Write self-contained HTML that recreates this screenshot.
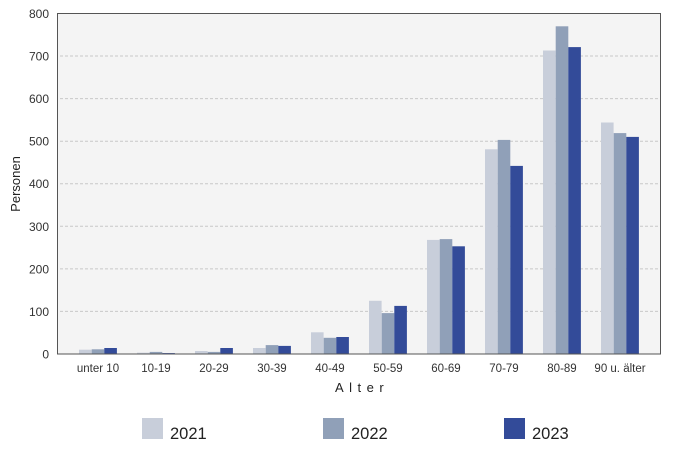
<!DOCTYPE html>
<html><head><meta charset="utf-8"><style>
html,body{margin:0;padding:0;background:#fff;}
svg{display:block;font-family:"Liberation Sans",sans-serif;}
</style></head><body>
<svg width="682" height="449" viewBox="0 0 682 449">
<rect x="57.5" y="13.5" width="603" height="340.5" fill="#f4f4f4" stroke="#555" stroke-width="1"/>
<g stroke="#c8c8c8" stroke-width="1" stroke-dasharray="3,2">
<line x1="60" x2="660" y1="56" y2="56"/>
<line x1="60" x2="660" y1="98.6" y2="98.6"/>
<line x1="60" x2="660" y1="141.2" y2="141.2"/>
<line x1="60" x2="660" y1="183.7" y2="183.7"/>
<line x1="60" x2="660" y1="226.3" y2="226.3"/>
<line x1="60" x2="660" y1="268.9" y2="268.9"/>
<line x1="60" x2="660" y1="311.4" y2="311.4"/>
</g>
<g transform="translate(0,354) scale(1,-1)">
<g fill="#c8ceda">
<rect x="79" width="12.6" y="0" height="4.3"/>
<rect x="137" width="12.6" y="0" height="1.3"/>
<rect x="195" width="12.6" y="0" height="3"/>
<rect x="253" width="12.6" y="0" height="6"/>
<rect x="311" width="12.6" y="0" height="21.7"/>
<rect x="369" width="12.6" y="0" height="53.2"/>
<rect x="427" width="12.6" y="0" height="114.1"/>
<rect x="485" width="12.6" y="0" height="204.7"/>
<rect x="543" width="12.6" y="0" height="303.5"/>
<rect x="601" width="12.6" y="0" height="231.5"/>
</g>
<g fill="#90a0b8">
<rect x="91.7" width="12.6" y="0" height="4.7"/>
<rect x="149.7" width="12.6" y="0" height="2.1"/>
<rect x="207.7" width="12.6" y="0" height="2.1"/>
<rect x="265.7" width="12.6" y="0" height="8.9"/>
<rect x="323.7" width="12.6" y="0" height="16.2"/>
<rect x="381.7" width="12.6" y="0" height="40.9"/>
<rect x="439.7" width="12.6" y="0" height="114.9"/>
<rect x="497.7" width="12.6" y="0" height="214.1"/>
<rect x="555.7" width="12.6" y="0" height="327.7"/>
<rect x="613.7" width="12.6" y="0" height="220.9"/>
</g>
<g fill="#334b99">
<rect x="104.3" width="12.6" y="0" height="6"/>
<rect x="162.3" width="12.6" y="0" height="0.9"/>
<rect x="220.3" width="12.6" y="0" height="6"/>
<rect x="278.3" width="12.6" y="0" height="8.1"/>
<rect x="336.3" width="12.6" y="0" height="17"/>
<rect x="394.3" width="12.6" y="0" height="48.1"/>
<rect x="452.3" width="12.6" y="0" height="107.7"/>
<rect x="510.3" width="12.6" y="0" height="188.1"/>
<rect x="568.3" width="12.6" y="0" height="306.9"/>
<rect x="626.3" width="12.6" y="0" height="217.1"/>
</g>
</g>
<line x1="57.5" y1="13" x2="57.5" y2="354.5" stroke="#555" stroke-width="1"/>
<line x1="57" y1="354" x2="661" y2="354" stroke="#555" stroke-width="1"/>
<g font-size="12" fill="#333" text-anchor="end">
<text x="49" y="18">800</text>
<text x="49" y="60.5">700</text>
<text x="49" y="103">600</text>
<text x="49" y="145.5">500</text>
<text x="49" y="188">400</text>
<text x="49" y="231">300</text>
<text x="49" y="273.5">200</text>
<text x="49" y="316">100</text>
<text x="49" y="358.5">0</text>
</g>
<g font-size="11.5" fill="#333" text-anchor="middle">
<text x="98" y="372">unter 10</text>
<text x="156" y="372">10-19</text>
<text x="214" y="372">20-29</text>
<text x="272" y="372">30-39</text>
<text x="330" y="372">40-49</text>
<text x="388" y="372">50-59</text>
<text x="446" y="372">60-69</text>
<text x="504" y="372">70-79</text>
<text x="562" y="372">80-89</text>
<text x="620" y="372">90 u. älter</text>
</g>
<text x="335" y="392" font-size="13" fill="#222" letter-spacing="5.5">Alter</text>
<text transform="translate(20,184) rotate(-90)" font-size="13" fill="#222" text-anchor="middle">Personen</text>
<rect x="142" y="418" width="21" height="21" fill="#c8ceda"/>
<text x="170" y="439" font-size="16.5" fill="#222">2021</text>
<rect x="323" y="418" width="21" height="21" fill="#90a0b8"/>
<text x="351" y="439" font-size="16.5" fill="#222">2022</text>
<rect x="504" y="418" width="21" height="21" fill="#334b99"/>
<text x="532" y="439" font-size="16.5" fill="#222">2023</text>
</svg>
</body></html>
